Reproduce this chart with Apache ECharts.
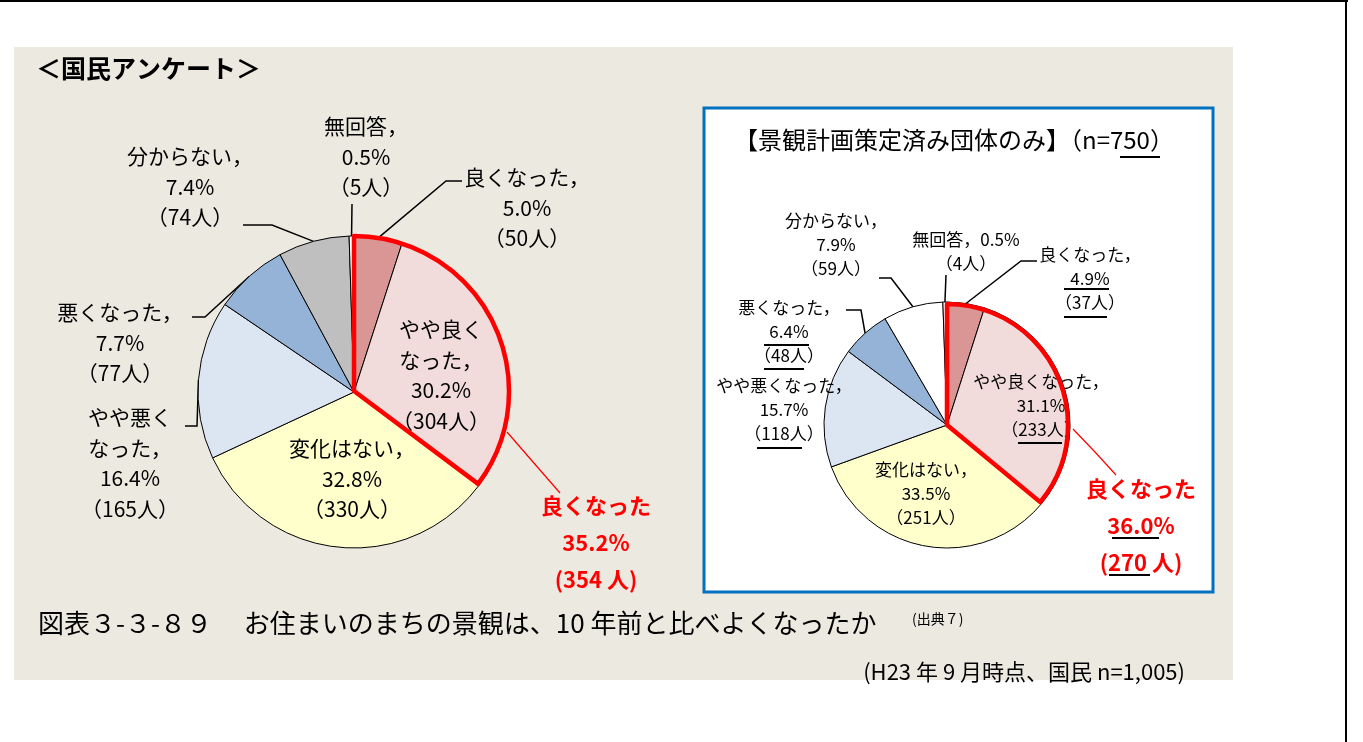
<!DOCTYPE html>
<html>
<head>
<meta charset="utf-8">
<script src="https://cdn.jsdelivr.net/npm/echarts@6/dist/echarts.min.js"></script>
<style>
html, body { margin: 0; padding: 0; background: #fff; }
#chart { width: 1363px; height: 742px; }
</style>
</head>
<body>
<div id="chart"></div>
<script>
// 回答区分（時計回り、12時から）
var categories = ['良くなった', 'やや良くなった', '変化はない', 'やや悪くなった', '悪くなった', '分からない', '無回答'];

// 国民アンケート n=1,005
var nationalCounts = [50, 304, 330, 165, 77, 74, 5];
var nationalPercents = [5.0, 30.2, 32.8, 16.4, 7.7, 7.4, 0.5];
var nationalTotal = 1005;

// 景観計画策定済み団体のみ n=750
var planCounts = [37, 233, 251, 118, 48, 59, 4];
var planPercents = [4.9, 31.1, 33.5, 15.7, 6.4, 7.9, 0.5];
var planTotal = 750;

var FONT = "'Noto Sans CJK JP', 'Noto Sans', sans-serif";

// 色
var leftColors = ['#D99694', '#F2DCDB', '#FFFFCC', '#DCE6F2', '#95B3D7', '#BFBFBF', '#FFFFFF'];
var rightColors = ['#D99694', '#F2DCDB', '#FFFFCC', '#DCE6F2', '#95B3D7', '#FFFFFF', '#FFFFFF'];

// ラベル位置（中心）と引出線
var leftLabelPos = [
    { x: 527, y: 208, line: [[446, 181], [462, 181]] },
    { x: 441, y: 375 },
    { x: 352, y: 479 },
    { x: 130, y: 463, line: [[197, 426], [185, 426]] },
    { x: 120, y: 343, line: [[205, 317], [192, 317]] },
    { x: 190, y: 187, line: [[272, 225], [243, 225]] },
    { x: 366, y: 157, line: [[352, 204], [352, 204]] }
];
var rightLabelPos = [
    { x: 1090, y: 279, line: [[1021, 261], [1037, 261]] },
    { x: 1041, y: 406 },
    { x: 926, y: 494 },
    { x: 784, y: 410 },
    { x: 789, y: 332, line: [[861, 310], [846, 310]] },
    { x: 836, y: 245, line: [[891, 278], [879, 278]] },
    { x: 966, y: 252, line: [[946, 275], [946, 275]] }
];
var leftRedPos = { x: 596, y: 543, points: [[507, 432], [533, 462], [560, 493]] };
var rightRedPos = { x: 1141, y: 526, points: [[1073, 429], [1095, 452], [1116, 475]] };

// ラベル文字列
function leftText(i) {
    var nameLines = [categories[i] + '，'];
    if (i === 1) nameLines = ['やや良く', 'なった，'];
    if (i === 3) nameLines = ['やや悪く', 'なった，'];
    return nameLines.concat([nationalPercents[i].toFixed(1) + '%', '（' + nationalCounts[i] + '人）']).join('\n');
}
function rightText(i) {
    if (i === 6) {
        return categories[i] + '，' + planPercents[i].toFixed(1) + '%\n（' + planCounts[i] + '人）';
    }
    return [categories[i] + '，', planPercents[i].toFixed(1) + '%', '（' + planCounts[i] + '人）'].join('\n');
}

function buildData(counts, colors, textFn, noLine) {
    var data = [];
    for (var i = 0; i < counts.length; i++) {
        data.push({
            name: categories[i],
            value: counts[i],
            itemStyle: { color: colors[i] },
            label: { formatter: textFn(i) },
            labelLine: { show: noLine.indexOf(i) === -1 }
        });
    }
    return data;
}

function layoutFrom(table) {
    return function (params) {
        var t = table[params.dataIndex];
        if (!t) return {};
        var out = { x: t.x, y: t.y, align: 'center', verticalAlign: 'middle' };
        if (t.line) {
            var a = (params.labelLinePoints && params.labelLinePoints[0]) || t.line[0];
            out.labelLinePoints = [a, t.line[0], t.line[1]];
        }
        return out;
    };
}

function redLayout(pos) {
    return function (params) {
        if (params.dataIndex !== 0) return {};
        return { x: pos.x, y: pos.y, align: 'center', verticalAlign: 'middle', labelLinePoints: pos.points };
    };
}

// 良くなった + やや良くなった の赤枠
function redData(counts, total) {
    var good = counts[0] + counts[1];
    return [
        {
            name: categories[0], value: good,
            itemStyle: { color: 'rgba(0,0,0,0)', borderColor: '#FF0000', borderWidth: 4.5 },
            label: {
                show: true,
                formatter: categories[0] + '\n' + (good / total * 100).toFixed(1) + '%\n(' + good + ' 人)'
            },
            labelLine: { show: true }
        },
        {
            name: 'その他', value: total - good,
            itemStyle: { color: 'rgba(0,0,0,0)', borderWidth: 0 },
            label: { show: false },
            labelLine: { show: false }
        }
    ];
}

var baseLabel = { show: true, color: '#000', fontFamily: FONT };

function underline(x1, x2, y) {
    return { type: 'line', z: 10, shape: { x1: x1, y1: y, x2: x2, y2: y }, style: { stroke: '#000', lineWidth: 2 } };
}

var chart = echarts.init(document.getElementById('chart'));

var option = {
    animation: false,
    backgroundColor: '#ffffff',
    graphic: [
        { type: 'rect', z: 0, shape: { x: 0, y: 0, width: 1348, height: 2 }, style: { fill: '#000' } },
        { type: 'rect', z: 0, shape: { x: 1345, y: 0, width: 2, height: 742 }, style: { fill: '#000' } },
        { type: 'rect', z: 0, shape: { x: 14, y: 47, width: 1219, height: 633 }, style: { fill: '#ECEAE0' } },
        { type: 'rect', z: 0, shape: { x: 704, y: 108, width: 509, height: 484 }, style: { fill: '#FFFFFF', stroke: '#0070C0', lineWidth: 3 } },
        { type: 'text', z: 10, left: 36, top: 56, style: { text: '＜国民アンケート＞', font: 'bold 25px ' + FONT, fill: '#000' } },
        { type: 'text', z: 10, left: 734, top: 128, style: { text: '【景観計画策定済み団体のみ】（n=' + planTotal + '）', font: '24px ' + FONT, fill: '#000' } },
        { type: 'text', z: 10, left: 38, top: 610, style: { text: '図表３-３-８９　 お住まいのまちの景観は、10 年前と比べよくなったか', font: '26px ' + FONT, fill: '#000' } },
        { type: 'text', z: 10, left: 912, top: 612, style: { text: '(出典７)', font: '14px ' + FONT, fill: '#000' } },
        { type: 'text', z: 10, right: 178, top: 661, style: { text: '(H23 年 9 月時点、国民 n=1,005)', font: '22px ' + FONT, fill: '#000' } },
        // 下線
        underline(1120, 1160, 157),
        underline(1064, 1109, 289),
        underline(1064, 1107, 317),
        underline(764, 809, 345),
        underline(764, 804, 369),
        underline(757, 802, 448),
        underline(1018, 1062, 443),
        underline(1112, 1159, 538),
        underline(1109, 1150, 575)
    ],
    series: [
        {
            type: 'pie',
            name: '国民アンケート',
            center: [354, 392],
            radius: 156,
            startAngle: 90,
            clockwise: true,
            avoidLabelOverlap: false,
            silent: true,
            z: 2,
            itemStyle: { borderColor: '#000', borderWidth: 1 },
            label: Object.assign({}, baseLabel, { fontSize: 21, lineHeight: 30.5 }),
            labelLine: { show: true, lineStyle: { color: '#000', width: 1.5 } },
            labelLayout: layoutFrom(leftLabelPos),
            data: buildData(nationalCounts, leftColors, leftText, [1, 2])
        },
        {
            type: 'pie',
            name: '国民アンケート良くなった計',
            center: [354, 391],
            radius: 155,
            startAngle: 90,
            clockwise: true,
            avoidLabelOverlap: false,
            silent: true,
            z: 3,
            label: { show: true, color: '#FF0000', fontFamily: FONT, fontWeight: 'bold', fontSize: 22, lineHeight: 37 },
            labelLine: { show: true, lineStyle: { color: '#FF0000', width: 1.2 } },
            labelLayout: redLayout(leftRedPos),
            data: redData(nationalCounts, nationalTotal)
        },
        {
            type: 'pie',
            name: '景観計画策定済み団体',
            center: [947, 425],
            radius: 123,
            startAngle: 90,
            clockwise: true,
            avoidLabelOverlap: false,
            silent: true,
            z: 2,
            itemStyle: { borderColor: '#000', borderWidth: 1 },
            label: Object.assign({}, baseLabel, { fontSize: 17, lineHeight: 24 }),
            labelLine: { show: true, lineStyle: { color: '#000', width: 1.5 } },
            labelLayout: layoutFrom(rightLabelPos),
            data: buildData(planCounts, rightColors, rightText, [1, 2, 3])
        },
        {
            type: 'pie',
            name: '景観計画良くなった計',
            center: [947, 425],
            radius: 121,
            startAngle: 90,
            clockwise: true,
            avoidLabelOverlap: false,
            silent: true,
            z: 3,
            label: { show: true, color: '#FF0000', fontFamily: FONT, fontWeight: 'bold', fontSize: 22, lineHeight: 37 },
            labelLine: { show: true, lineStyle: { color: '#FF0000', width: 1.2 } },
            labelLayout: redLayout(rightRedPos),
            data: redData(planCounts, planTotal)
        }
    ]
};

chart.setOption(option);
</script>
</body>
</html>
